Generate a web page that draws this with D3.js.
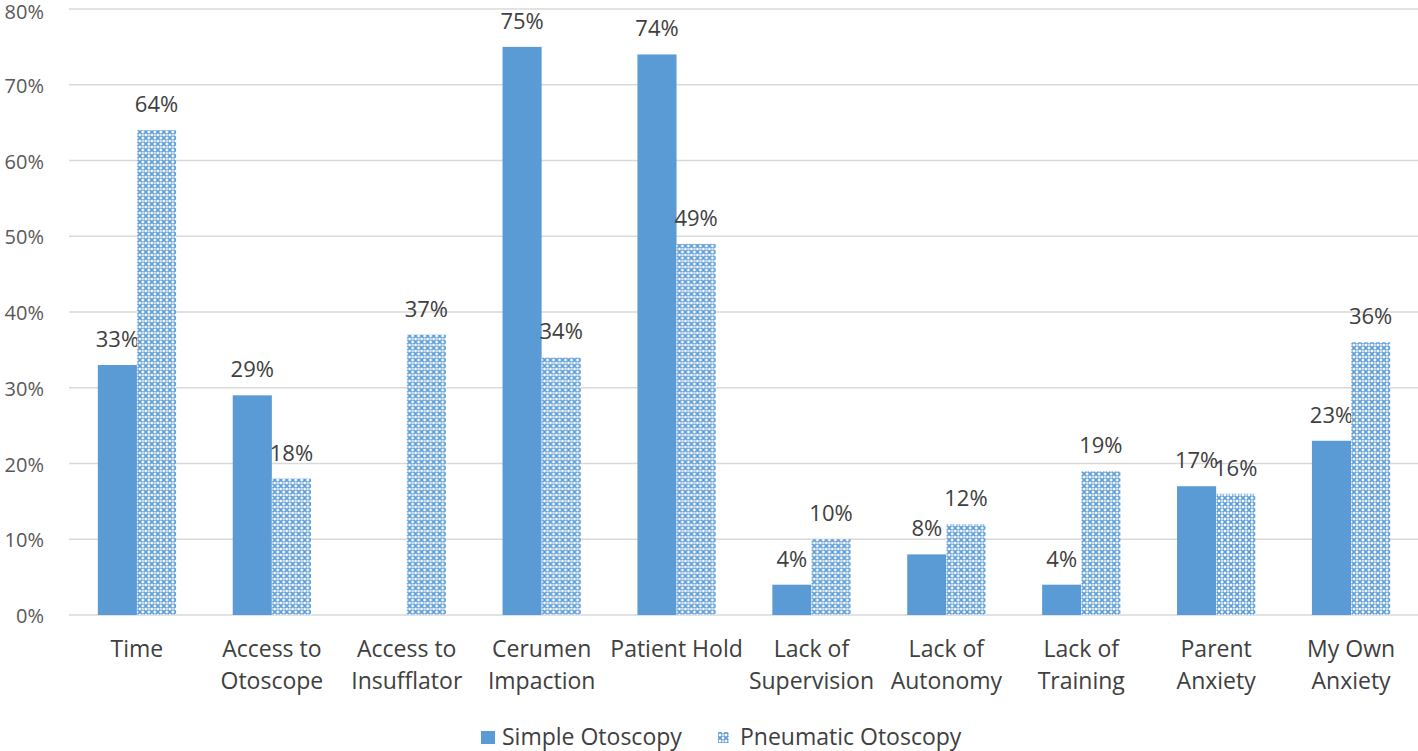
<!DOCTYPE html>
<html><head><meta charset="utf-8">
<script src="https://cdn.jsdelivr.net/npm/d3@7"></script>
<style>body{margin:0;background:#fff}svg{display:block;font-family:"Open Sans","Noto Sans",sans-serif}</style>
</head><body><svg id="c" width="1418" height="751"></svg>
<script>
const categories = [["Time"],["Access to","Otoscope"],["Access to","Insufflator"],["Cerumen","Impaction"],["Patient Hold"],["Lack of","Supervision"],["Lack of","Autonomy"],["Lack of","Training"],["Parent","Anxiety"],["My Own","Anxiety"]];
const simple = [33,29,null,75,74,4,8,4,17,23];
const pneumatic = [64,18,37,34,49,10,12,19,16,36];
const yTicks = [0,10,20,30,40,50,60,70,80];
const seriesNames = ["Simple Otoscopy","Pneumatic Otoscopy"];

const svg = d3.select("#c");
const defs = svg.append("defs");
const pat = defs.append("pattern").attr("id","chk").attr("patternUnits","userSpaceOnUse").attr("width",6).attr("height",6);
pat.append("rect").attr("width",6).attr("height",6).attr("fill","#fff");
pat.append("path").attr("d","M0,0L6,6M6,0L0,6").attr("stroke","#5b9bd5").attr("stroke-width",1.6);
pat.append("circle").attr("cx",3).attr("cy",3).attr("r",0.9).attr("fill","#fff");

const x0 = d3.scaleBand().domain(d3.range(categories.length)).range([69.5,1418.5]).paddingInner(0.42).paddingOuter(0.21);
const x1 = d3.scaleBand().domain([0,1]).range([0,x0.bandwidth()]);
const y = d3.scaleLinear().domain([0,80]).range([615,9]);

svg.append("g").selectAll("line").data(yTicks).join("line")
  .attr("x1",69).attr("x2",1418).attr("y1",d=>y(d)).attr("y2",d=>y(d))
  .attr("stroke","#d9d9d9").attr("stroke-width",1.3);
svg.append("g").selectAll("text").data(yTicks).join("text")
  .attr("x",44).attr("y",d=>Math.max(y(d)+1,12)).attr("dy","0.36em").attr("text-anchor","end")
  .attr("fill","#595959").attr("font-size",20).text(d=>d+"%");

const groups = svg.append("g").selectAll("g").data(categories).join("g")
  .attr("transform",(d,i)=>`translate(${x0(i)},0)`);

groups.each(function(c,i){
  const g = d3.select(this);
  const vals = [simple[i], pneumatic[i]];
  vals.forEach((v,k)=>{
    if(v==null) return;
    g.append("rect").attr("x",x1(k)).attr("width",x1.bandwidth())
      .attr("y",y(v)).attr("height",y(0)-y(v))
      .attr("fill",k===0?"#5b9bd5":"url(#chk)");
    g.append("text").attr("x",x1(k)+x1.bandwidth()/2).attr("y",y(v)-18)
      .attr("text-anchor","middle").attr("fill","#404040").attr("font-size",22)
      .text(v+"%");
  });
  g.append("text").attr("x",x0.bandwidth()/2).attr("y",657).attr("text-anchor","middle")
    .attr("fill","#404040").attr("font-size",23)
    .selectAll("tspan").data(c).join("tspan").attr("x",x0.bandwidth()/2).attr("dy",(d,j)=>j?32:0).text(d=>d);
});

const leg = svg.append("g");
const lx = [481,718];
seriesNames.forEach((n,k)=>{
  leg.append("rect").attr("x",lx[k]).attr("y",k?732:731).attr("width",k?11:14).attr("height",k?11:13)
    .attr("fill",k===0?"#5b9bd5":"url(#chk)");
  leg.append("text").attr("x",lx[k]+(k?22:21)).attr("y",745).attr("fill","#404040")
    .attr("font-size",23).text(n);
});
</script></body></html>
